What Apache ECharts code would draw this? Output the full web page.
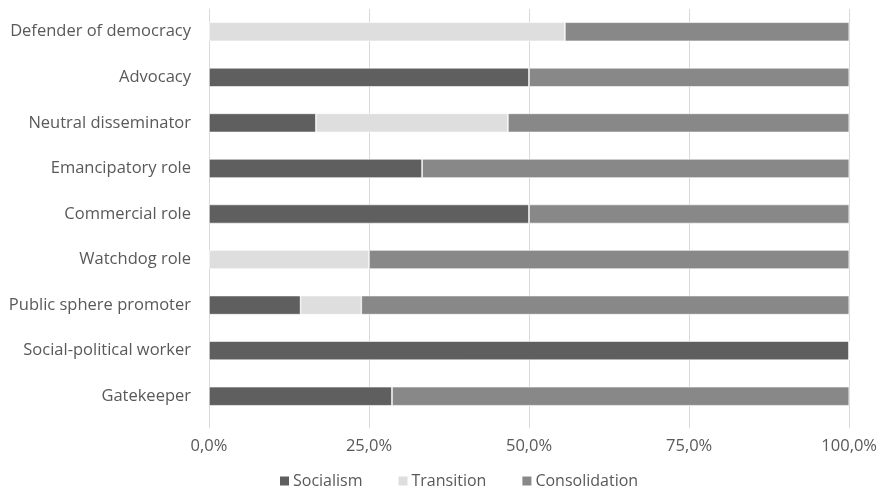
<!DOCTYPE html>
<html>
<head>
<meta charset="utf-8">
<script src="https://cdn.jsdelivr.net/npm/echarts@6/dist/echarts.min.js"></script>
<style>
  html, body { margin: 0; padding: 0; background: #fff; }
  #chart { width: 880px; height: 487px; }
</style>
</head>
<body>
<div id="chart"></div>
<script>
// categories from bottom to top (category axis starts at the bottom)
var roles = ['Gatekeeper', 'Social-political worker', 'Public sphere promoter', 'Watchdog role',
    'Commercial role', 'Emancipatory role', 'Neutral disseminator', 'Advocacy', 'Defender of democracy'];
var socialism = [28.6, 100, 14.3, 0, 50, 33.3, 16.7, 50, 0];
var transition = [0, 0, 9.5, 25, 0, 0, 30.0, 0, 55.6];
var consolidation = [71.4, 0, 76.2, 75, 50, 66.7, 53.3, 50, 44.4];
var ticks = [0, 25, 50, 75, 100];

var chart = echarts.init(document.getElementById('chart'));
var txt = '#595959';
var font = 'Open Sans';

function bar(name, data, color) {
    return {
        name: name,
        type: 'bar',
        stack: 'all',
        data: data,
        barWidth: 19,
        itemStyle: { color: color, borderColor: '#ffffff', borderWidth: 0.6 },
        emphasis: { disabled: true }
    };
}

chart.setOption({
    animation: false,
    textStyle: { fontFamily: font },
    grid: { left: 209, right: 30, top: 9, bottom: 68, containLabel: false },
    legend: {
        bottom: -7,
        left: 273,
        itemWidth: 11,
        itemHeight: 11,
        itemGap: 34,
        icon: 'rect',
        textStyle: { color: txt, fontSize: 16, fontFamily: font, padding: [0, 0, 0, -2] },
        data: ['Socialism', 'Transition', 'Consolidation']
    },
    xAxis: {
        type: 'value',
        min: 0,
        max: 100,
        interval: 25,
        axisLine: { show: false },
        axisTick: { show: true, length: 9, lineStyle: { color: '#d9d9d9' } },
        splitLine: { show: true, lineStyle: { color: '#d9d9d9', width: 1 } },
        axisLabel: {
            color: txt,
            fontSize: 16.5,
            margin: 19,
            formatter: function (v) {
                return ticks.indexOf(v) >= 0 ? v.toFixed(1).replace('.', ',') + '%' : '';
            }
        }
    },
    yAxis: {
        type: 'category',
        data: roles,
        axisLine: { show: true, lineStyle: { color: '#d9d9d9' } },
        axisTick: { show: false },
        axisLabel: { color: txt, fontSize: 16.5, margin: 18 }
    },
    series: [
        bar('Socialism', socialism, '#5f5f5f'),
        bar('Transition', transition, '#dedede'),
        bar('Consolidation', consolidation, '#888888')
    ]
});
</script>
</body>
</html>
